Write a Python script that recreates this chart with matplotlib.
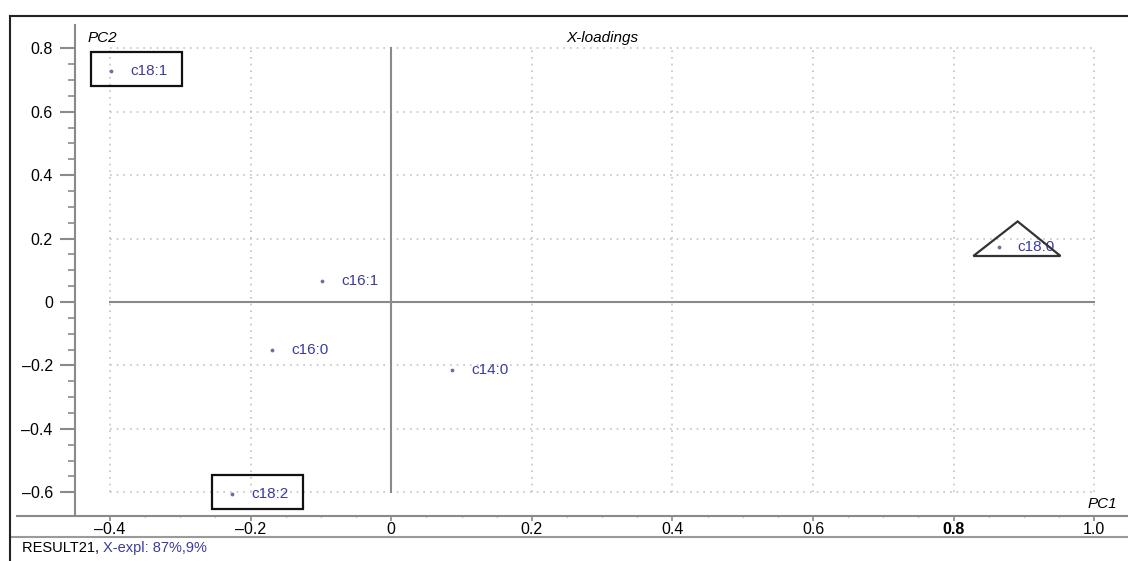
import numpy as np
import matplotlib
matplotlib.use("Agg")
import matplotlib.pyplot as plt
from matplotlib.lines import Line2D
from matplotlib.patches import Rectangle, Polygon
import matplotlib.ticker as mticker

plt.rcParams['font.family'] = ['Liberation Sans', 'DejaVu Sans']

# loadings on PC1 / PC2
names = ['c18:1', 'c16:1', 'c16:0', 'c14:0', 'c18:2', 'c18:0']
pc1 = [-0.398, -0.098, -0.169, 0.087, -0.226, 0.864]
pc2 = [0.728, 0.066, -0.151, -0.214, -0.606, 0.174]

boxed = ['c18:1', 'c18:2']
flagged = ['c18:0']

xticks = [-0.4, -0.2, 0, 0.2, 0.4, 0.6, 0.8, 1.0]
xticklabels = ['\u20130.4', '\u20130.2', '0', '0.2', '0.4', '0.6', '0.8', '1.0']
yticks = [-0.6, -0.4, -0.2, 0, 0.2, 0.4, 0.6, 0.8]
yticklabels = ['\u20130.6', '\u20130.4', '\u20130.2', '0', '0.2', '0.4', '0.6', '0.8']

label_col = '#3b3b9c'
axis_col = '#8a8a8a'
W, H = 1128, 561

fig = plt.figure(figsize=(W / 100, H / 100), dpi=100)
ax = fig.add_axes([75 / W, (H - 516) / H, (W - 75) / W, (516 - 25) / H])
ax.set_xlim(-0.4498, 1.048)
ax.set_ylim(-0.675, 0.8735)

for s in ['top', 'right', 'bottom']:
    ax.spines[s].set_visible(False)
ax.spines['left'].set_color(axis_col)
ax.spines['left'].set_linewidth(1.5)

# dotted grid and solid zero lines
for gx in [-0.4, -0.2, 0.2, 0.4, 0.6, 0.8, 1.0]:
    ax.plot([gx, gx], [-0.6, 0.8], color='#c4c4c4', lw=1.2, ls=(0, (1, 3)), zorder=0)
for gy in [-0.6, -0.4, -0.2, 0.2, 0.4, 0.6, 0.8]:
    ax.plot([-0.4, 1.0], [gy, gy], color='#c4c4c4', lw=1.2, ls=(0, (1, 3)), zorder=0)
ax.plot([0, 0], [-0.6, 0.8], color=axis_col, lw=1.5, zorder=1)
ax.plot([-0.4, 1.0], [0, 0], color=axis_col, lw=1.5, zorder=1)

ax.scatter(pc1, pc2, s=3, color='#70709a', zorder=3)
for n, x, y in zip(names, pc1, pc2):
    ax.annotate(n, (x, y), xytext=(13.5, 0), textcoords='offset points',
                va='center', ha='left', fontsize=11, color=label_col, zorder=4)
    if n in boxed:
        ax.add_patch(Rectangle((x - 0.029, y - 0.048), 0.130, 0.108, fill=False,
                               ec='#111111', lw=1.6, zorder=5))
    if n in flagged:
        tri = [(x - 0.036, y - 0.029), (x + 0.027, y + 0.080), (x + 0.088, y - 0.029)]
        ax.add_patch(Polygon(tri, closed=True, fill=False, ec='#333333', lw=1.6, zorder=5))

# ticks
ax.set_xticks(xticks)
ax.set_xticklabels(xticklabels)
ax.get_xticklabels()[6].set_fontweight('bold')
ax.set_yticks(yticks)
ax.set_yticklabels(yticklabels)
ax.xaxis.set_minor_locator(mticker.FixedLocator(np.arange(-0.4, 1.001, 0.05)))
ax.yaxis.set_minor_locator(mticker.FixedLocator(np.arange(-0.6, 0.801, 0.05)))
ax.tick_params(axis='y', which='major', length=11, width=1.5, color=axis_col,
               labelsize=11.5, pad=5)
ax.tick_params(axis='y', which='minor', length=5, width=1.2, color=axis_col)
ax.tick_params(axis='x', which='major', length=3.5, width=1.2, color=axis_col,
               labelsize=11.5, pad=1)
ax.tick_params(axis='x', which='minor', length=1.5, width=1.0, color=axis_col,
               direction='inout')

ax.text(0.0123, 0.973, 'PC2', transform=ax.transAxes, style='italic',
        fontsize=11, ha='left', va='center')
ax.text((602 - 75) / (W - 75), 0.973, 'X-loadings', transform=ax.transAxes,
        style='italic', fontsize=11, ha='center', va='center')
ax.text(0.9895, 0.024, 'PC1', transform=ax.transAxes, style='italic',
        fontsize=11, ha='right', va='center')


def fline(x0, x1, y0, y1, **kw):
    fig.add_artist(Line2D([x0 / W, x1 / W], [1 - y0 / H, 1 - y1 / H],
                          transform=fig.transFigure, **kw))


# x axis line, separator and outer frame
fline(17, W, 516, 516, color=axis_col, lw=1.5)
fline(10, W, 537, 537, color='#9a9a9a', lw=1.5)
fline(10, W, 16, 16, color='#222222', lw=1.5)
fline(10, 10, 16, H, color='#222222', lw=1.5)

t1 = fig.text(22 / W, 1 - 548 / H, 'RESULT21, ', fontsize=10.5, va='center', ha='left')
ax.annotate('X-expl: 87%,9%', xy=(1, 0.5), xycoords=t1, va='center', ha='left',
            fontsize=10.5, color=label_col, annotation_clip=False)

fig.savefig('out.png', dpi=100)
